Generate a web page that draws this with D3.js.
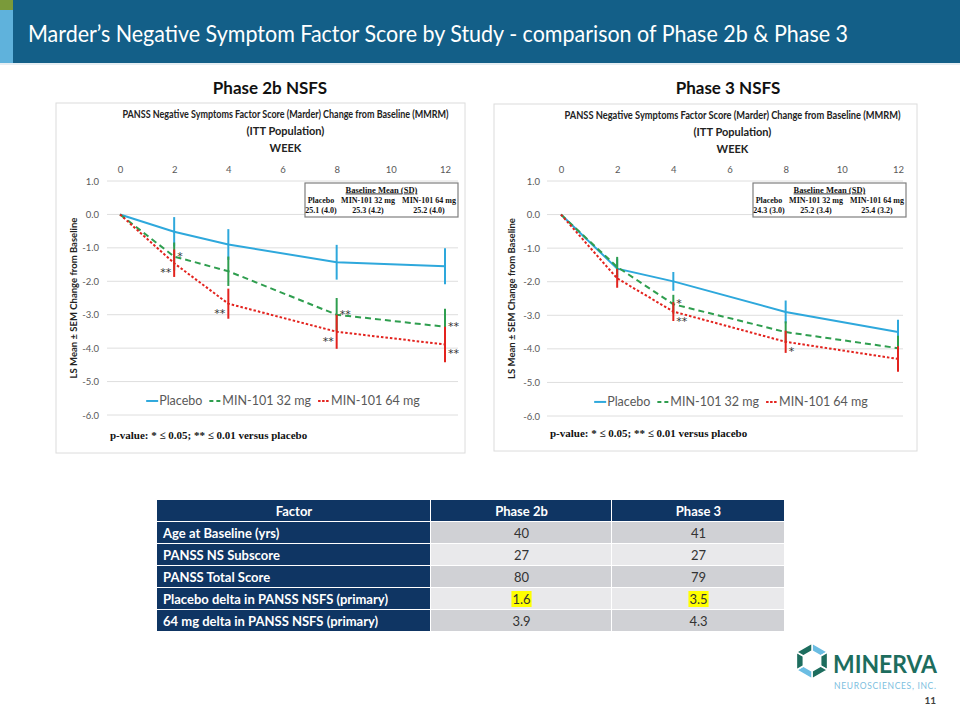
<!DOCTYPE html>
<html><head><meta charset="utf-8">
<script src="https://cdn.jsdelivr.net/npm/d3@7"></script>
<style>
html,body{margin:0;padding:0;background:#fff;}
svg{display:block;}
</style>
</head><body>
<svg id="chart" width="960" height="720"></svg>
<script>
// ---------------- DATA ----------------
const slideTitle = "Marder’s Negative Symptom Factor Score by Study - comparison of Phase 2b & Phase 3";
const weeks = [0, 2, 4, 8, 12];
const weekTicks = [0, 2, 4, 6, 8, 10, 12];
const yTicks = [1, 0, -1, -2, -3, -4, -5, -6];
const seriesNames = ["Placebo", "MIN-101 32 mg", "MIN-101 64 mg"];

const p2Placebo    = [0, -0.52, -0.90, -1.43, -1.55];
const p2PlaceboSem = [0, 0.44, 0.46, 0.52, 0.54];
const p2Mg32       = [0, -1.26, -1.70, -3.00, -3.36];
const p2Mg32Sem    = [0, 0.42, 0.44, 0.50, 0.54];
const p2Mg64       = [0, -1.46, -2.67, -3.51, -3.89];
const p2Mg64Sem    = [0, 0.41, 0.45, 0.51, 0.53];

const p3Placebo    = [0, -1.61, -1.99, -2.90, -3.50];
const p3PlaceboSem = [0, 0.30, 0.28, 0.34, 0.37];
const p3Mg32       = [0, -1.56, -2.67, -3.50, -3.98];
const p3Mg32Sem    = [0, 0.30, 0.28, 0.32, 0.37];
const p3Mg64       = [0, -1.90, -2.89, -3.79, -4.30];
const p3Mg64Sem    = [0, 0.28, 0.28, 0.33, 0.38];

// significance markers: week, series index, label, side
const p2Sig = [
  {week: 2, s: 1, t: "*", side: "right"},
  {week: 2, s: 2, t: "**", side: "left"},
  {week: 4, s: 2, t: "**", side: "left"},
  {week: 8, s: 1, t: "**", side: "right"},
  {week: 8, s: 2, t: "**", side: "left"},
  {week: 12, s: 1, t: "**", side: "right"},
  {week: 12, s: 2, t: "**", side: "right"}
];
const p3Sig = [
  {week: 4, s: 1, t: "*", side: "right"},
  {week: 4, s: 2, t: "**", side: "right"},
  {week: 8, s: 2, t: "*", side: "right"}
];

const p2Baseline = ["25.1 (4.0)", "25.3 (4.2)", "25.2 (4.0)"];
const p3Baseline = ["24.3 (3.0)", "25.2 (3.4)", "25.4 (3.2)"];

const tableHeader = ["Factor", "Phase 2b", "Phase 3"];
const tableFactors = ["Age at Baseline (yrs)", "PANSS NS Subscore", "PANSS Total Score",
  "Placebo delta in PANSS NSFS (primary)", "64 mg delta in PANSS NSFS (primary)"];
const tablePhase2b = ["40", "27", "80", "1.6", "3.9"];
const tablePhase3  = ["41", "27", "79", "3.5", "4.3"];
const tableHighlight = [false, false, false, true, false];

// ---------------- STYLE ----------------
const colors = ["#2ea8dc", "#2f9e4f", "#e3231e"];
const dashes = [null, "6,4", "2.5,2"];
const sans = "Lato, 'Open Sans', sans-serif";
const serif = "'Liberation Serif', 'Times New Roman', serif";

const svg = d3.select("#chart");

// Header band
svg.append("rect").attr("x", 0).attr("y", 0).attr("width", 960).attr("height", 63).attr("fill", "#135f88");
svg.append("rect").attr("x", 0).attr("y", 0).attr("width", 13).attr("height", 63).attr("fill", "#5fb2dc");
svg.append("rect").attr("x", 0).attr("y", 0).attr("width", 13).attr("height", 10).attr("fill", "#7a9a3a");
svg.append("rect").attr("x", 0).attr("y", 63).attr("width", 960).attr("height", 2).attr("fill", "#e6eef3");
svg.append("text").attr("x", 28).attr("y", 42).attr("fill", "#fff")
  .attr("font-family", sans).attr("font-size", 23)
  .attr("textLength", 820).attr("lengthAdjust", "spacingAndGlyphs")
  .text(slideTitle);

// Phase titles
svg.append("text").attr("x", 270).attr("y", 94).attr("text-anchor", "middle")
  .attr("font-family", sans).attr("font-weight", "bold").attr("font-size", 17).attr("fill", "#111")
  .text("Phase 2b NSFS");
svg.append("text").attr("x", 728).attr("y", 94).attr("text-anchor", "middle")
  .attr("font-family", sans).attr("font-weight", "bold").attr("font-size", 17).attr("fill", "#111")
  .text("Phase 3 NSFS");

function drawChart(cfg) {
  const g = svg.append("g");
  // panel
  g.append("rect").attr("x", cfg.px).attr("y", cfg.py).attr("width", cfg.pw).attr("height", cfg.ph)
    .attr("fill", "#fff").attr("stroke", "#dcdcdc").attr("stroke-width", 1);

  const x = d3.scaleLinear().domain([0, 12]).range(cfg.xr);
  const y = d3.scaleLinear().domain([-6, 1]).range(cfg.yr);

  // titles
  const cx = (cfg.xr[0] + cfg.xr[1]) / 2 + 3;
  g.append("text").attr("x", cx).attr("y", cfg.py + 15).attr("text-anchor", "middle")
    .attr("font-family", sans).attr("font-weight", "bold").attr("font-size", 10.5).attr("fill", "#222")
    .attr("textLength", cfg.titleW).attr("lengthAdjust", "spacingAndGlyphs")
    .text("PANSS Negative Symptoms Factor Score (Marder) Change from Baseline (MMRM)");
  g.append("text").attr("x", cx).attr("y", cfg.py + 32).attr("text-anchor", "middle")
    .attr("font-family", sans).attr("font-weight", "bold").attr("font-size", 11).attr("fill", "#222")
    .text("(ITT Population)");
  g.append("text").attr("x", cx).attr("y", cfg.py + 49).attr("text-anchor", "middle")
    .attr("font-family", sans).attr("font-weight", "bold").attr("font-size", 11).attr("fill", "#222")
    .text("WEEK");

  // gridlines
  g.append("g").selectAll("line").data(yTicks).join("line")
    .attr("x1", cfg.gx[0]).attr("x2", cfg.gx[1])
    .attr("y1", d => y(d)).attr("y2", d => y(d))
    .attr("stroke", "#dedede").attr("stroke-width", 1);

  // top axis
  const xAxis = d3.axisTop(x).tickValues(weekTicks).tickSize(0).tickPadding(0).tickFormat(d3.format("d"));
  const xa = g.append("g").attr("transform", `translate(0,${cfg.yr[1] - 8})`).call(xAxis);
  xa.select(".domain").remove();
  xa.selectAll("text").attr("font-family", sans).attr("font-size", 9.5).attr("fill", "#595959");

  // left axis labels
  const yAxis = d3.axisLeft(y).tickValues(yTicks).tickSize(0).tickPadding(0).tickFormat(d3.format(".1f"));
  const ya = g.append("g").attr("transform", `translate(${cfg.ylabX},0)`).call(yAxis);
  ya.select(".domain").remove();
  ya.selectAll("text").attr("font-family", sans).attr("font-size", 9.5).attr("fill", "#595959")
    .text(d => d.toFixed(1));

  // y title
  g.append("text")
    .attr("transform", `translate(${cfg.px + 21},${y(-2.5)}) rotate(-90)`)
    .attr("text-anchor", "middle")
    .attr("font-family", sans).attr("font-weight", "bold").attr("font-size", 9.5).attr("fill", "#222")
    .text("LS Mean ± SEM Change from Baseline");

  // series
  const line = d3.line().x(d => x(d.w)).y(d => y(d.v));
  cfg.series.forEach((s, i) => {
    const pts = weeks.map((w, k) => ({w, v: s.v[k], e: s.e[k]}));
    g.append("path").datum(pts).attr("d", line)
      .attr("fill", "none").attr("stroke", colors[i]).attr("stroke-width", 2)
      .attr("stroke-dasharray", dashes[i]);
    g.append("g").selectAll("line").data(pts.filter(d => d.e > 0)).join("line")
      .attr("x1", d => x(d.w)).attr("x2", d => x(d.w))
      .attr("y1", d => y(d.v + d.e)).attr("y2", d => y(d.v - d.e))
      .attr("stroke", colors[i]).attr("stroke-width", 2);
  });

  // significance markers
  const vals = cfg.series.map(s => s.v);
  g.append("g").selectAll("text").data(cfg.sig).join("text")
    .attr("x", d => x(d.week) + (d.side === "right" ? 3 : -3))
    .attr("y", d => y(vals[d.s][weeks.indexOf(d.week)]) + (d.s === 2 ? 13 : 3))
    .attr("text-anchor", d => d.side === "right" ? "start" : "end")
    .attr("font-family", "'DejaVu Sans', sans-serif").attr("font-size", 11).attr("fill", "#333")
    .text(d => d.t);

  // baseline box
  const bx = cfg.boxX, by = y(1) + 2, bw = 153, bh = 34;
  g.append("rect").attr("x", bx).attr("y", by).attr("width", bw).attr("height", bh)
    .attr("fill", "#fff").attr("stroke", "#7f7f7f").attr("stroke-width", 1.2);
  g.append("text").attr("x", bx + bw / 2).attr("y", by + 9.5).attr("text-anchor", "middle")
    .attr("font-family", serif).attr("font-weight", "bold").attr("font-size", 8.5).attr("fill", "#111")
    .attr("text-decoration", "underline").text("Baseline Mean (SD)");
  const colX = [bx + 16, bx + 63, bx + 124];
  seriesNames.forEach((n, i) => {
    g.append("text").attr("x", colX[i]).attr("y", by + 20).attr("text-anchor", "middle")
      .attr("font-family", serif).attr("font-weight", "bold").attr("font-size", 8).attr("fill", "#111").text(n);
    g.append("text").attr("x", colX[i]).attr("y", by + 30).attr("text-anchor", "middle")
      .attr("font-family", serif).attr("font-weight", "bold").attr("font-size", 8).attr("fill", "#111").text(cfg.baseline[i]);
  });

  // legend
  const lg = g.append("g");
  let lx = 0;
  const ly = y(-5.7);
  seriesNames.forEach((n, i) => {
    lg.append("line").attr("x1", lx).attr("x2", lx + 12).attr("y1", ly - 4).attr("y2", ly - 4)
      .attr("stroke", colors[i]).attr("stroke-width", 2).attr("stroke-dasharray", i === 0 ? null : (i === 1 ? "4,3" : "2.5,1.5"));
    const t = lg.append("text").attr("x", lx + 13).attr("y", ly).attr("font-family", sans)
      .attr("font-size", 12.5).attr("fill", "#595959").text(n);
    lx += 13 + t.node().getComputedTextLength() + 7;
  });
  lg.attr("transform", `translate(${cfg.legendCx - (lx - 7) / 2},0)`);

  // p-value note
  g.append("text").attr("x", cfg.noteX).attr("y", cfg.py + cfg.ph - 14)
    .attr("font-family", serif).attr("font-weight", "bold").attr("font-size", 11).attr("fill", "#111")
    .text("p-value: * ≤ 0.05;  ** ≤ 0.01 versus placebo");
}

drawChart({
  px: 56, py: 103, pw: 409, ph: 350,
  xr: [120, 445], yr: [415, 181], gx: [107, 458], ylabX: 99,
  titleW: 326, boxX: 305, legendCx: 283, noteX: 110,
  baseline: p2Baseline, sig: p2Sig,
  series: [{v: p2Placebo, e: p2PlaceboSem}, {v: p2Mg32, e: p2Mg32Sem}, {v: p2Mg64, e: p2Mg64Sem}]
});
drawChart({
  px: 494, py: 104, pw: 423, ph: 347,
  xr: [561, 898], yr: [416, 181], gx: [547, 903], ylabX: 540,
  titleW: 336, boxX: 753, legendCx: 731, noteX: 550,
  baseline: p3Baseline, sig: p3Sig,
  series: [{v: p3Placebo, e: p3PlaceboSem}, {v: p3Mg32, e: p3Mg32Sem}, {v: p3Mg64, e: p3Mg64Sem}]
});

// ---------------- TABLE ----------------
const colEdges = [157, 431, 612, 785];
const rowTop = 500, rowH = 22;
const tg = svg.append("g");
const hdr = tg.append("g");
tableHeader.forEach((h, c) => {
  hdr.append("rect").attr("x", colEdges[c]).attr("y", rowTop).attr("width", colEdges[c + 1] - colEdges[c] - 1)
    .attr("height", rowH - 1).attr("fill", "#0f3563");
  hdr.append("text").attr("x", (colEdges[c] + colEdges[c + 1]) / 2).attr("y", rowTop + 15.5)
    .attr("text-anchor", "middle").attr("font-family", sans).attr("font-weight", "bold")
    .attr("font-size", 13).attr("fill", "#fff").text(h);
});
tableFactors.forEach((f, r) => {
  const yy = rowTop + rowH * (r + 1);
  const fill = r % 2 === 0 ? "#d0d1d5" : "#e9e9eb";
  tg.append("rect").attr("x", colEdges[0]).attr("y", yy).attr("width", colEdges[1] - colEdges[0] - 1)
    .attr("height", rowH - 1).attr("fill", "#0f3563");
  tg.append("text").attr("x", colEdges[0] + 6).attr("y", yy + 15.5).attr("font-family", sans)
    .attr("font-weight", "bold").attr("font-size", 13).attr("fill", "#fff").text(f);
  [tablePhase2b[r], tablePhase3[r]].forEach((v, k) => {
    const c = k + 1;
    const cxm = (colEdges[c] + colEdges[c + 1]) / 2;
    tg.append("rect").attr("x", colEdges[c]).attr("y", yy).attr("width", colEdges[c + 1] - colEdges[c] - 1)
      .attr("height", rowH - 1).attr("fill", fill);
    const t = tg.append("text").attr("x", cxm).attr("y", yy + 15.5).attr("text-anchor", "middle")
      .attr("font-family", sans).attr("font-size", 13).attr("fill", "#333").text(v);
    if (tableHighlight[r]) {
      const w = t.node().getComputedTextLength();
      tg.insert("rect", () => t.node()).attr("x", cxm - w / 2 - 1).attr("y", yy + 3).attr("width", w + 2)
        .attr("height", 16).attr("fill", "#ffff00");
    }
  });
});

// ---------------- LOGO ----------------
const logo = svg.append("g").attr("transform", "translate(812,661)");
const R = 18, r0 = 10;
for (let i = 0; i < 6; i++) {
  const a0 = (Math.PI / 3) * i - Math.PI / 2, a1 = a0 + Math.PI / 3;
  const p = [[R * Math.cos(a0), R * Math.sin(a0)], [R * Math.cos(a1), R * Math.sin(a1)],
             [r0 * Math.cos(a1), r0 * Math.sin(a1)], [r0 * Math.cos(a0), r0 * Math.sin(a0)]];
  logo.append("path").attr("d", "M" + p.map(q => q.join(",")).join("L") + "Z")
    .attr("fill", (i === 0 || i === 3) ? "#6bbde3" : "#1d6d5e")
    .attr("stroke", "#fff").attr("stroke-width", 1.5);
}
svg.append("text").attr("x", 833).attr("y", 673).attr("font-family", sans).attr("font-weight", "bold")
  .attr("font-size", 25).attr("fill", "#1d6d5e").attr("textLength", 104).attr("lengthAdjust", "spacingAndGlyphs")
  .text("MINERVA");
svg.append("text").attr("x", 834).attr("y", 689).attr("font-family", sans)
  .attr("font-size", 8.5).attr("fill", "#7cc0e0").attr("textLength", 102).attr("lengthAdjust", "spacing")
  .text("NEUROSCIENCES, INC.");
svg.append("text").attr("x", 936).attr("y", 704).attr("text-anchor", "end").attr("font-family", sans)
  .attr("font-weight", "bold").attr("font-size", 10).attr("fill", "#404040").text("11");
</script>
</body></html>
